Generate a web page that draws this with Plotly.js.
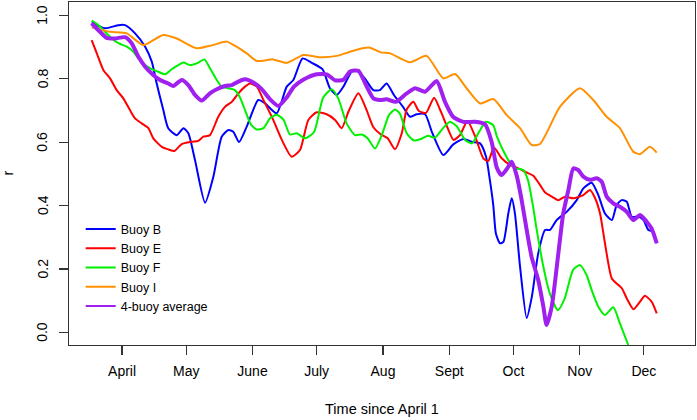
<!DOCTYPE html>
<html>
<head>
<meta charset="utf-8">
<script src="https://cdn.plot.ly/plotly-3.0.1.min.js"></script>
<style>html,body{margin:0;padding:0;background:#fff;}#chart{width:697px;height:420px;}</style>
</head>
<body>
<div id="chart"></div>
<script>
// Days since April 1 and correlation r for each buoy
const monthTicks = [0, 30, 61, 91, 122, 153, 183, 214, 244];
const monthLabels = ["April", "May", "June", "July", "Aug", "Sept", "Oct", "Nov", "Dec"];
const yTicks = [0, 0.2, 0.4, 0.6, 0.8, 1.0];
const yTickLabels = ["0.0", "0.2", "0.4", "0.6", "0.8", "1.0"];
const seriesNames = ["Buoy B", "Buoy E", "Buoy F", "Buoy I", "4-buoy average"];

const dayB = [-14.2,-7.9,-1.7,1.4,6.1,10.8,13.9,16.2,19.3,21.6,25.6,28.7,31.0,34.1,38.8,42.7,46.6,49.7,52.0,54.7,58.3,63.7,66.9,72.3,77.0,80.1,84.4,88.7,93.7,97.2,100.4,103.5,107.4,109.9,113.6,117.5,120.6,123.7,127.2,131.4,134.6,137.8,141.7,145.0,150.2,154.9,159.6,163.5,167.4,170.2,172.0,173.6,174.8,176.7,178.3,180.6,182.2,183.7,186.1,189.2,191.6,194.6,197.8,200.1,203.2,207.9,212.6,215.7,219.6,222.7,225.8,229.0,231.3,233.6,236.0,238.3,241.4,243.8,246.1,248.4,250.0];
const rB = [0.977,0.959,0.969,0.969,0.943,0.901,0.854,0.785,0.701,0.644,0.622,0.644,0.628,0.544,0.409,0.491,0.617,0.638,0.633,0.600,0.649,0.733,0.722,0.691,0.775,0.796,0.864,0.850,0.830,0.770,0.749,0.775,0.822,0.825,0.800,0.764,0.764,0.785,0.748,0.711,0.680,0.688,0.688,0.630,0.559,0.593,0.610,0.601,0.596,0.554,0.480,0.400,0.312,0.281,0.285,0.375,0.423,0.375,0.207,0.045,0.112,0.249,0.323,0.323,0.354,0.380,0.417,0.454,0.472,0.433,0.375,0.354,0.402,0.417,0.412,0.365,0.365,0.354,0.323,0.317,0.281];

const dayE = [-14.2,-11.8,-8.7,-5.6,-2.5,0.6,3.7,6.1,9.2,12.3,14.6,18.6,21.6,24.5,27.9,32.6,35.7,38.0,41.1,45.0,48.2,51.3,54.4,57.5,59.8,63.0,66.1,70.7,74.7,79.3,83.2,87.1,91.0,95.7,99.6,102.7,105.8,110.5,114.4,117.5,120.9,124.2,127.6,130.8,133.1,136.2,138.8,142.1,145.9,149.1,151.9,155.0,158.0,161.5,165.0,168.9,171.2,173.9,177.5,181.4,185.3,188.9,192.3,195.4,198.0,200.9,204.0,207.1,211.0,215.7,218.8,221.2,223.5,225.8,229.0,232.1,233.7,236.0,239.1,242.2,244.5,247.6,250.0];
const rE = [0.922,0.880,0.827,0.801,0.764,0.738,0.701,0.675,0.659,0.644,0.612,0.585,0.577,0.572,0.594,0.601,0.604,0.617,0.622,0.680,0.712,0.727,0.754,0.775,0.785,0.775,0.733,0.670,0.607,0.554,0.575,0.670,0.694,0.688,0.670,0.644,0.695,0.754,0.700,0.647,0.625,0.612,0.578,0.628,0.703,0.727,0.698,0.692,0.740,0.696,0.650,0.607,0.622,0.667,0.620,0.549,0.540,0.583,0.549,0.528,0.517,0.505,0.494,0.465,0.440,0.428,0.417,0.428,0.423,0.433,0.449,0.423,0.375,0.281,0.170,0.149,0.139,0.107,0.073,0.097,0.115,0.097,0.060];

const dayF = [-14.2,-11.1,-7.9,-4.8,-1.7,2.2,5.3,7.6,10.8,13.9,17.0,20.1,23.2,26.3,28.7,31.8,35.7,38.5,41.1,44.3,46.6,49.7,52.8,55.2,57.5,60.3,63.0,66.1,69.2,72.3,75.4,78.5,81.7,85.6,89.8,94.0,98.0,101.1,105.0,108.9,112.1,114.8,118.3,121.6,124.8,127.6,129.9,133.1,136.5,139.8,143.1,146.3,150.2,153.3,156.5,160.4,163.6,166.9,170.2,173.6,175.3,178.1,181.4,184.2,187.6,189.8,192.1,193.9,197.0,200.0,203.8,207.0,210.9,214.1,217.2,219.6,222.7,225.8,229.7,232.8,236.7];
const rF = [0.983,0.969,0.948,0.927,0.912,0.901,0.885,0.864,0.843,0.830,0.822,0.814,0.830,0.843,0.851,0.843,0.851,0.861,0.833,0.796,0.775,0.770,0.764,0.740,0.701,0.655,0.640,0.644,0.675,0.686,0.672,0.624,0.628,0.612,0.632,0.740,0.767,0.738,0.659,0.622,0.624,0.612,0.580,0.625,0.685,0.703,0.690,0.628,0.605,0.610,0.620,0.614,0.645,0.664,0.650,0.607,0.596,0.632,0.664,0.653,0.617,0.575,0.535,0.517,0.512,0.480,0.400,0.323,0.207,0.123,0.070,0.107,0.197,0.212,0.181,0.133,0.081,0.055,0.079,0.028,-0.040];

const dayI = [-14.2,-5.6,2.2,10.0,19.2,25.6,34.9,42.5,48.9,53.5,58.3,63.0,70.6,77.0,84.8,92.6,100.4,106.6,112.5,115.9,121.0,125.3,134.6,142.4,150.2,155.7,161.1,167.4,173.6,179.9,186.1,191.5,195.4,204.8,214.1,220.3,226.6,232.8,239.0,242.2,246.8,250.0];
const rI = [0.962,0.948,0.943,0.906,0.938,0.927,0.896,0.906,0.917,0.901,0.880,0.856,0.861,0.850,0.875,0.868,0.872,0.885,0.896,0.898,0.883,0.880,0.852,0.872,0.801,0.815,0.770,0.722,0.736,0.685,0.644,0.591,0.594,0.712,0.770,0.733,0.680,0.644,0.570,0.562,0.585,0.567];

const dayAvg = [-14.2,-10.3,-7.2,-3.3,1.4,4.5,7.6,10.8,14.6,17.8,21.6,24.0,27.9,31.0,34.1,37.3,41.1,44.3,48.2,51.3,54.4,57.5,61.4,65.3,69.2,73.1,77.0,80.4,85.1,91.0,95.7,99.6,103.5,106.6,110.5,114.4,117.5,120.6,123.7,128.1,132.8,137.0,141.7,147.1,151.0,154.9,159.6,165.0,169.7,172.8,175.2,177.4,179.9,182.2,184.5,186.9,189.2,191.5,194.6,197.0,198.5,200.9,204.0,206.3,208.7,211.0,213.3,215.7,218.8,221.9,224.3,226.6,229.7,232.8,236.0,239.1,242.2,245.3,247.6,250.0];
const rAvg = [0.975,0.948,0.929,0.927,0.931,0.912,0.870,0.838,0.812,0.796,0.785,0.777,0.796,0.780,0.749,0.731,0.754,0.767,0.777,0.780,0.791,0.798,0.788,0.767,0.735,0.714,0.741,0.775,0.798,0.814,0.814,0.795,0.797,0.823,0.825,0.775,0.738,0.733,0.735,0.727,0.752,0.770,0.759,0.793,0.727,0.679,0.664,0.664,0.656,0.601,0.520,0.496,0.515,0.538,0.495,0.415,0.323,0.238,0.165,0.081,0.023,0.081,0.249,0.375,0.449,0.517,0.512,0.491,0.481,0.486,0.475,0.428,0.407,0.396,0.380,0.354,0.370,0.349,0.328,0.281];

const FONT = "Liberation Sans, Arial, Helvetica, sans-serif";
const COLORS = ["#0000FF", "#FF0000", "#00F000", "#FF9000", "#A020F0"];
const mk = (x, y, name, color, w, showleg) => ({
  x: x, y: y, name: name, type: "scatter", mode: "lines",
  line: {color: color, width: w, shape: "spline", smoothing: 0.6},
  hoverinfo: "skip", showlegend: showleg
});

const traces = [
  mk(dayB, rB, seriesNames[0], COLORS[0], 2, true),
  mk(dayE, rE, seriesNames[1], COLORS[1], 2, true),
  mk(dayF, rF, seriesNames[2], COLORS[2], 2, true),
  mk(dayI, rI, seriesNames[3], COLORS[3], 2, true),
  mk(dayAvg, rAvg, seriesNames[4], COLORS[4], 4, false),
  // legend entry for the average, drawn with a thin key line as in the original
  {x: [null], y: [null], name: seriesNames[4], type: "scatter", mode: "lines",
   line: {color: COLORS[4], width: 2}, hoverinfo: "skip", showlegend: true}
];

// y tick labels drawn rotated (parallel to the axis), placed at the tick values
const yLabelAnnotations = yTicks.map((v, i) => ({
  xref: "paper", yref: "y", x: -0.0423, y: v,
  text: yTickLabels[i], textangle: -90, showarrow: false,
  xanchor: "center", yanchor: "middle",
  font: {family: FONT, size: 14, color: "#000"}
}));
const yTitleAnnotation = {
  xref: "paper", yref: "paper", x: -0.099, y: 0.5,
  text: "r", textangle: -90, showarrow: false,
  xanchor: "center", yanchor: "middle",
  font: {family: FONT, size: 14.5, color: "#000"}
};

const layout = {
  width: 697, height: 420,
  margin: {l: 69, r: 2, t: 2, b: 75, pad: 0},
  paper_bgcolor: "#fff", plot_bgcolor: "#fff",
  font: {family: FONT, size: 14, color: "#000"},
  showlegend: true,
  legend: {
    x: 0.0187, y: 0.2245, xanchor: "left", yanchor: "middle",
    bgcolor: "rgba(0,0,0,0)", borderwidth: 0,
    font: {family: FONT, size: 12.5, color: "#000"}
  },
  xaxis: {
    range: [-24.8, 267.9], autorange: false,
    tickmode: "array", tickvals: monthTicks, ticktext: monthLabels,
    ticks: "outside", ticklen: 9, tickwidth: 1.2, tickcolor: "#333",
    showline: true, mirror: true, linecolor: "#333", linewidth: 1.3,
    showgrid: false, zeroline: false,
    ticklabelstandoff: 4,
    tickfont: {family: FONT, size: 14, color: "#000"},
    title: {text: "Time since April 1", font: {family: FONT, size: 14.5, color: "#000"}, standoff: 25},
    automargin: false
  },
  yaxis: {
    range: [-0.040, 1.042], autorange: false,
    tickmode: "array", tickvals: yTicks,
    showticklabels: false,
    ticks: "outside", ticklen: 9, tickwidth: 1.2, tickcolor: "#333",
    showline: true, mirror: true, linecolor: "#333", linewidth: 1.3,
    showgrid: false, zeroline: false,
    automargin: false
  },
  annotations: yLabelAnnotations.concat([yTitleAnnotation])
};

Plotly.newPlot("chart", traces, layout, {displayModeBar: false, staticPlot: true});
</script>
</body>
</html>
